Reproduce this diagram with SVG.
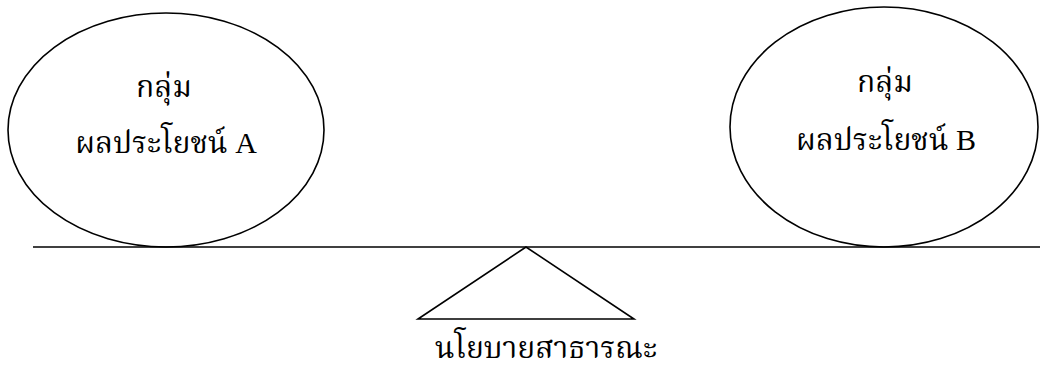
<svg xmlns="http://www.w3.org/2000/svg" width="1040" height="372" viewBox="0 0 1040 372">
<style>
.shape{fill:none;stroke:#000;stroke-width:1.6}
.lbl{font-family:"Liberation Serif","Noto Serif Thai","Noto Sans Thai","Noto Sans","DejaVu Sans",serif;font-size:30px;fill:#000;text-anchor:middle}
</style>
<rect width="1040" height="372" fill="#fff"/>
<g id="connectors">
<line class="shape" x1="33" y1="247" x2="1040" y2="247"/>
</g>
<g id="groupA">
<ellipse class="shape" cx="166" cy="130" rx="158" ry="117"/>
<text class="lbl" x="164" y="97">กลุ่ม</text>
<text class="lbl" x="166" y="153">ผลประโยชน์ A</text>
</g>
<g id="groupB">
<ellipse class="shape" cx="884" cy="127" rx="154" ry="120"/>
<text class="lbl" x="885" y="92">กลุ่ม</text>
<text class="lbl" x="886" y="150">ผลประโยชน์ B</text>
</g>
<g id="fulcrum">
<polygon class="shape" points="526,247 418,319 634,319"/>
<text class="lbl" x="546" y="358" font-size="32">นโยบายสาธารณะ</text>
</g>
</svg>
